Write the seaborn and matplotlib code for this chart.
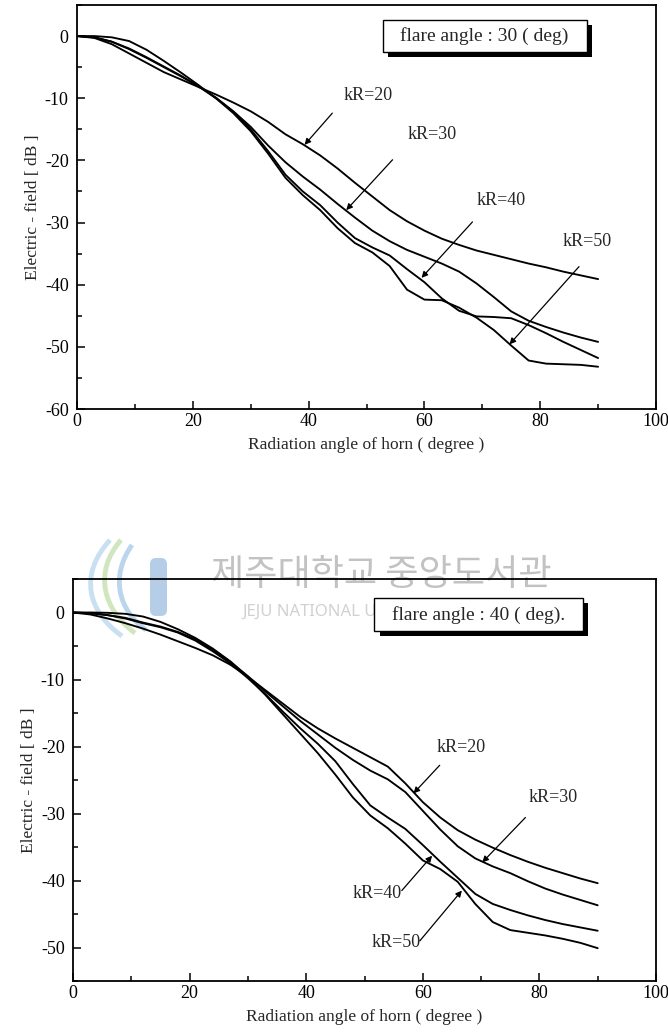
import numpy as np
import pandas as pd
import matplotlib
matplotlib.use("Agg")
import matplotlib.pyplot as plt
import seaborn as sns
from matplotlib.patches import Rectangle, FancyBboxPatch, PathPatch
from matplotlib.path import Path
from matplotlib.ticker import MultipleLocator

# ---------------- data ----------------
angles = list(range(0, 91, 3))
series_labels = ["kR=20", "kR=30", "kR=40", "kR=50"]

# flare angle 30 deg
top_kR20 = [0, -0.3, -1.3, -2.8, -4.3, -5.8, -7.0, -8.2, -9.4, -10.7, -12.1, -13.8, -15.8, -17.4, -19.2, -21.3,
            -23.6, -25.8, -28.0, -29.8, -31.3, -32.6, -33.6, -34.5, -35.2, -35.9, -36.6, -37.2, -37.9, -38.5, -39.1]
top_kR30 = [0, -0.2, -0.9, -2.0, -3.4, -4.9, -6.4, -8.1, -9.9, -12.1, -14.6, -17.6, -20.3, -22.6, -24.7, -27.0,
            -29.2, -31.3, -33.0, -34.4, -35.5, -36.6, -37.9, -39.8, -42.0, -44.3, -45.8, -46.8, -47.7, -48.5, -49.2]
top_kR40 = [0, -0.2, -0.9, -2.1, -3.5, -5.0, -6.5, -8.1, -10.0, -12.2, -15.0, -18.5, -22.3, -25.0, -27.2, -30.0,
            -32.5, -34.0, -35.3, -37.5, -39.6, -42.2, -44.2, -45.1, -45.2, -45.4, -46.5, -47.8, -49.2, -50.5, -51.8]
top_kR50 = [0, 0.0, -0.2, -0.8, -2.2, -4.0, -5.9, -7.9, -10.0, -12.4, -15.3, -18.9, -22.8, -25.6, -28.0, -30.9,
            -33.3, -34.8, -37.0, -40.8, -42.4, -42.5, -43.7, -45.3, -47.3, -49.8, -52.2, -52.7, -52.8, -52.9, -53.2]

# flare angle 40 deg
bot_kR20 = [0, -0.3, -0.9, -1.6, -2.4, -3.3, -4.3, -5.3, -6.4, -7.8, -9.6, -11.6, -13.6, -15.6, -17.3, -18.8,
            -20.2, -21.6, -23.0, -25.5, -28.3, -30.6, -32.5, -33.9, -35.1, -36.2, -37.2, -38.1, -38.9, -39.7, -40.4]
bot_kR30 = [0, -0.1, -0.4, -0.8, -1.5, -2.1, -2.9, -4.0, -5.6, -7.4, -9.5, -11.8, -14.0, -16.2, -18.2, -20.2,
            -22.0, -23.6, -24.9, -26.8, -29.6, -32.4, -34.9, -36.7, -37.9, -38.9, -40.1, -41.2, -42.1, -42.9, -43.7]
bot_kR40 = [0, -0.1, -0.4, -0.9, -1.6, -2.2, -3.0, -4.2, -5.8, -7.6, -9.8, -12.2, -14.8, -17.3, -19.6, -22.2,
            -25.6, -28.8, -30.6, -32.3, -34.7, -37.2, -39.6, -42.0, -43.5, -44.4, -45.2, -45.9, -46.5, -47.0, -47.5]
bot_kR50 = [0, 0.0, -0.05, -0.2, -0.6, -1.4, -2.5, -3.8, -5.4, -7.3, -9.6, -12.3, -15.2, -18.1, -21.0, -24.2,
            -27.6, -30.3, -32.2, -34.5, -37.0, -38.3, -40.2, -43.5, -46.2, -47.4, -47.8, -48.2, -48.7, -49.3, -50.1]

x_ticks = [0, 20, 40, 60, 80, 100]
top_y_ticks = [-60, -50, -40, -30, -20, -10, 0]
bot_y_ticks = [-50, -40, -30, -20, -10, 0]

top_box_text = "flare angle : 30 ( deg)"
bot_box_text = "flare angle : 40 ( deg)."
x_label = "Radiation angle of horn ( degree )"
y_label = "Electric - field [ dB ]"
watermark_kr = "제주대학교 중앙도서관"
watermark_en = "JEJU NATIONAL UNIVERSITY LIBRARY"

# ---------------- style ----------------
sns.set_style("white")
plt.rcParams["font.family"] = ["Liberation Serif", "DejaVu Serif"]
plt.rcParams["axes.unicode_minus"] = False

fig = plt.figure(figsize=(6.68, 10.32), dpi=100)
fig.patch.set_facecolor("white")
ax1 = fig.add_axes([77 / 668, 1 - 409 / 1032, (656 - 77) / 668, (409 - 5) / 1032])
ax2 = fig.add_axes([73 / 668, 1 - 981 / 1032, (656 - 73) / 668, (981 - 579) / 1032])
ax2.set_facecolor("none")


def frame(values):
    return pd.DataFrame({
        "angle": angles * len(values),
        "dB": [v for s in values for v in s],
        "kR": np.repeat(series_labels, len(angles)),
    })


def style_axes(ax, ylim, yticks):
    ax.set_xlim(0, 100)
    ax.set_ylim(*ylim)
    ax.set_xticks(x_ticks)
    ax.set_yticks(yticks)
    ax.xaxis.set_minor_locator(MultipleLocator(10))
    ax.yaxis.set_minor_locator(MultipleLocator(5))
    ax.tick_params(which="both", direction="in", top=False, right=False,
                   left=True, bottom=True, colors="black")
    ax.tick_params(which="major", length=6, width=1.1, labelsize=13)
    ax.tick_params(which="minor", length=3.5, width=1.1)
    ax.tick_params(axis="y", pad=6)
    ax.tick_params(axis="x", pad=3)
    for sp in ax.spines.values():
        sp.set_visible(True)
        sp.set_color("black")
        sp.set_linewidth(1.3)
    ax.set_xlabel(x_label, fontsize=12.5, labelpad=5)
    ax.set_ylabel(y_label, fontsize=12.5, labelpad=3)
    ax.grid(False)


def box(ax, x0, x1, y0, y1, dx, dy, text, tx, ty):
    ax.add_patch(Rectangle((x0 + dx, y0 + dy), x1 - x0, y1 - y0, facecolor="black",
                           edgecolor="black", lw=0, zorder=5))
    ax.add_patch(Rectangle((x0, y0), x1 - x0, y1 - y0, facecolor="white",
                           edgecolor="black", lw=1.0, zorder=6))
    ax.text(tx, ty, text, ha="center", va="center", fontsize=14, zorder=7)


def arrow(ax, label, tpos, start, tip):
    ax.text(tpos[0], tpos[1], label, ha="center", va="center", fontsize=13, zorder=7)
    ax.annotate("", xy=tip, xytext=start,
                arrowprops=dict(arrowstyle="-|>", color="black", lw=0.9,
                                mutation_scale=9, shrinkA=0, shrinkB=0), zorder=7)


# top chart
sns.lineplot(data=frame([top_kR20, top_kR30, top_kR40, top_kR50]), x="angle", y="dB",
             units="kR", estimator=None, color="black", lw=1.35, ax=ax1)
style_axes(ax1, (-60, 5), top_y_ticks)
box(ax1, 52.8, 88.1, -2.6, 2.6, 0.9, -0.8, top_box_text, 70.4, 0.0)
arrow(ax1, series_labels[0], (50.3, -9.5), (44.1, -12.4), (39.3, -17.5))
arrow(ax1, series_labels[1], (61.4, -15.9), (54.5, -19.9), (46.5, -28.0))
arrow(ax1, series_labels[2], (73.3, -26.4), (68.3, -29.9), (59.5, -38.9))
arrow(ax1, series_labels[3], (88.1, -33.1), (86.7, -37.1), (74.7, -49.6))

# bottom chart
sns.lineplot(data=frame([bot_kR20, bot_kR30, bot_kR40, bot_kR50]), x="angle", y="dB",
             units="kR", estimator=None, color="black", lw=1.35, ax=ax2)
style_axes(ax2, (-55, 5), bot_y_ticks)
box(ax2, 51.7, 87.4, -2.8, 2.1, 0.9, -0.75, bot_box_text, 69.5, -0.35)
arrow(ax2, series_labels[0], (66.6, -20.1), (62.9, -22.8), (58.4, -27.0))
arrow(ax2, series_labels[1], (82.4, -27.6), (77.6, -30.6), (70.2, -37.3))
arrow(ax2, series_labels[2], (52.1, -41.9), (56.4, -41.5), (61.6, -36.3))
arrow(ax2, series_labels[3], (55.5, -49.3), (59.5, -49.0), (66.7, -41.5))

# ---------------- watermark (behind the transparent lower axes) ----------------
H = 1032.0


def px(x, y):
    return (x / 100.0, (H - y) / 100.0)


tr = fig.dpi_scale_trans
for pts, col in [
    ([(110, 540), (78, 575), (88, 612), (122, 636)], "#bcd9ef"),
    ([(121, 540), (93, 572), (103, 610), (135, 633)], "#c6e0b0"),
    ([(132, 545), (110, 576), (118, 610), (146, 630)], "#a9cbe8"),
]:
    path = Path([px(*p) for p in pts], [Path.MOVETO, Path.CURVE4, Path.CURVE4, Path.CURVE4])
    fig.add_artist(PathPatch(path, facecolor="none", edgecolor=col, lw=3.5,
                             transform=tr, alpha=0.8, zorder=-1))
bx, by = px(150, 616)
fig.add_artist(FancyBboxPatch((bx, by), 0.17, 0.58, boxstyle="round,pad=0,rounding_size=0.06",
                              facecolor="#9dbde0", edgecolor="none", alpha=0.75,
                              transform=tr, zorder=-1))
fig.text(381 / 668, 1 - 575 / 1032, watermark_kr, ha="center", va="center", fontsize=26,
         family=["Noto Sans CJK KR", "DejaVu Sans"], color="#9a9a9a", alpha=0.6, zorder=-1)
fig.text(385 / 668, 1 - 612 / 1032, watermark_en, ha="center", va="center", fontsize=12,
         family=["Noto Sans", "DejaVu Sans"], color="#9a9a9a", alpha=0.45, zorder=-1)

fig.savefig("out.png", dpi=100, facecolor="white")
